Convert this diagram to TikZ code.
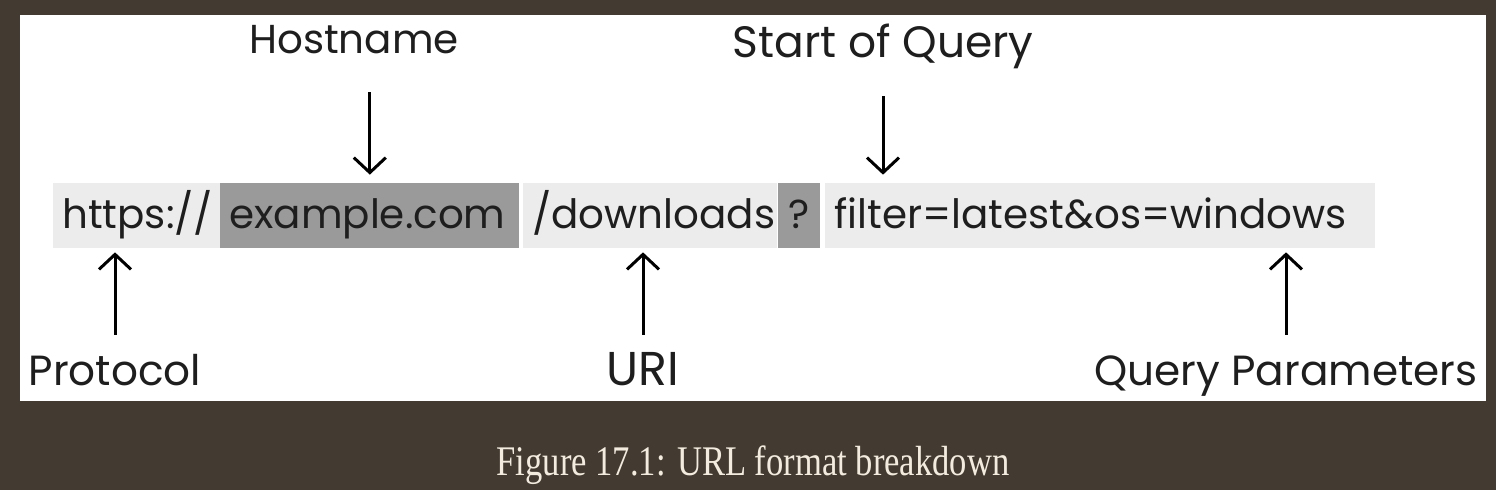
\documentclass[tikz,border=0pt]{standalone}
\usepackage{fontspec}
\newfontfamily\urlfont{Poppins}
\newfontfamily\capfont{Liberation Serif}
\usepackage{xcolor}
\usetikzlibrary{positioning,arrows.meta}
\definecolor{bgbrown}{HTML}{433B32}
\definecolor{lightseg}{HTML}{ECECEC}
\definecolor{darkseg}{HTML}{9A9A9A}
\definecolor{inkgray}{HTML}{1E1E1E}
\definecolor{capcream}{HTML}{F3EBDD}

\begin{document}
\begin{tikzpicture}[x=0.02cm,y=-0.02cm,
  seg/.style={anchor=west,inner xsep=0.18cm,inner ysep=0pt,minimum height=1.22cm,
    text height=0.9cm,text depth=0.4cm,align=left,text=inkgray,
    font=\urlfont\fontsize{23}{27}\selectfont},
  toplbl/.style={anchor=base,inner sep=0pt,text height=0.6cm,text depth=0.2cm,text=inkgray,
    font=\urlfont\fontsize{23}{27}\selectfont},
  botlbl/.style={anchor=base,inner sep=0pt,text height=0.7cm,text depth=0.2cm,text=inkgray,
    font=\urlfont\fontsize{24}{28}\selectfont},
  arr/.style={-{Straight Barb[length=0.3cm,width=0.64cm]},line width=0.06cm,black}]
\fill[bgbrown] (0,0) rectangle (1496,490);
\fill[white] (20,15) rectangle (1486,401);

\node[seg,fill=lightseg,text width=2.98cm] (proto) at (53,215.5) {https://};
\node[seg,fill=darkseg,text width=5.62cm] (host) at (220,215.5) {example.com};
\node[seg,fill=lightseg,text width=4.72cm] (uri) at (523,215.5) {/downloads};
\node[seg,fill=darkseg,text width=0.64cm,inner xsep=0.1cm,align=center] (qmark) at (778,215.5) {?};
\node[seg,fill=lightseg,text width=10.64cm] (query) at (825,215.5) {filter=latest\&os=windows};

\node[toplbl] (hostlbl) at (354,53) {Hostname};
\node[toplbl,font=\urlfont\fontsize{25}{29}\selectfont] (startlbl) at (883,57) {Start of Query};
\node[botlbl] (protolbl) at (115,385) {Protocol};
\node[botlbl,font=\urlfont\fontsize{27}{31}\selectfont] (urilbl) at (643,385) {URI};
\node[botlbl] (paramlbl) at (1286,385) {Query Parameters};

\draw[arr,shorten <=0.58cm,shorten >=0.16cm] (hostlbl.south -| host.north) -- (host.north);
\draw[arr,shorten <=0.58cm,shorten >=0.16cm] (startlbl.south) -- (startlbl.south |- query.north);
\draw[arr,shorten <=0.3cm,shorten >=0.08cm] (protolbl.north) -- (protolbl.north |- proto.south);
\draw[arr,shorten <=0.3cm,shorten >=0.08cm] (urilbl.north) -- (urilbl.north |- uri.south);
\draw[arr,shorten <=0.3cm,shorten >=0.08cm] (paramlbl.north) -- (paramlbl.north |- query.south);

\node[anchor=base,text=capcream,xscale=0.82,transform shape,font=\capfont\fontsize{24}{28}\selectfont] (caption) at (753,475) {Figure 17.1: URL format breakdown};
\end{tikzpicture}
\end{document}
